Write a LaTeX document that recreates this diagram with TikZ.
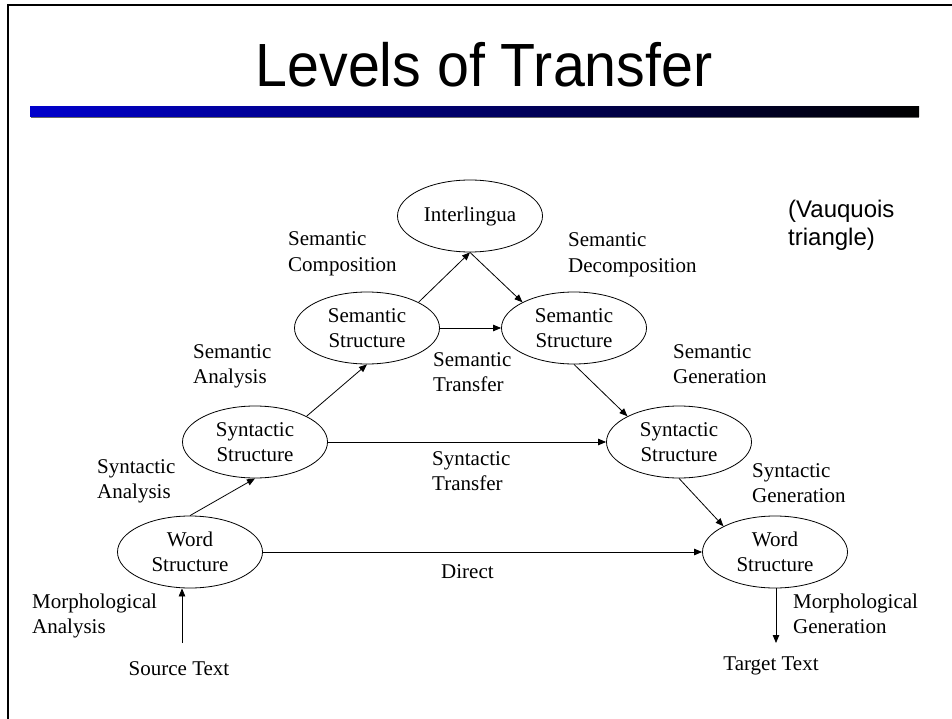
\documentclass[tikz,border=0pt]{standalone}
\usepackage{fontspec}
\setmainfont{Liberation Serif}
\newfontfamily\arialfont{Liberation Sans}
\usetikzlibrary{arrows.meta,shapes.geometric}

\definecolor{barblue}{RGB}{0,0,204}

\begin{document}
\begin{tikzpicture}[x=1pt, y=-1pt,
        level/.style={draw, ellipse, line width=0.8pt, minimum width=145pt, minimum height=72pt, inner sep=0pt, align=center, font=\fontsize{21}{25}\selectfont},
        lbl/.style={anchor=base west, inner sep=0pt, align=left, font=\fontsize{21}{25}\selectfont},
        arrow/.style={-{Triangle[length=8pt, width=6.5pt]}, line width=0.8pt}
      ]
      \useasboundingbox (0,0) rectangle (952,719);
      % frame and title bar
      \draw[line width=2.5pt] (8,719) -- (8,5) -- (952,5);
      \shade[left color=barblue, right color=black] (30,107) rectangle (919,117);
      \draw[black!60, line width=0.8pt] (31,117) -- (919,117);
      \node[anchor=base, inner sep=0pt, font=\arialfont\fontsize{61}{66}\selectfont] (title) at (484,87) {\scalebox{0.94}[1]{Levels of Transfer}};
      \node[anchor=base west, inner sep=0pt, align=left, font=\arialfont\fontsize{24}{28}\selectfont] (vauq) at (788,245) {(Vauquois\\triangle)};

      % levels
      \node[level] (interl) at (470,216) {Interlingua};
      \node[level] (semL) at (367,328) {Semantic\\Structure};
      \node[level] (semR) at (574,328) {Semantic\\Structure};
      \node[level] (synL) at (255,442) {Syntactic\\Structure};
      \node[level] (synR) at (679,442) {Syntactic\\Structure};
      \node[level] (wordL) at (190,552) {Word\\Structure};
      \node[level] (wordR) at (775,552) {Word\\Structure};

      % texts at the ends
      \node[anchor=base, inner sep=0pt, font=\fontsize{21}{25}\selectfont] (src) at (179,675) {Source Text};
      \node[anchor=base, inner sep=0pt, font=\fontsize{21}{25}\selectfont] (tgt) at (771,670) {Target Text};
      \coordinate (srcTop) at (182,643);
      \coordinate (tgtEnd) at (776,643);

      % step labels (base = last line)
      \node[lbl] (semComp) at (288,271) {Semantic\\Composition};
      \node[lbl] (semDec) at (568,272) {Semantic\\Decomposition};
      \node[lbl] (semAna) at (193,383) {Semantic\\Analysis};
      \node[lbl] (semTr) at (433,391) {Semantic\\Transfer};
      \node[lbl] (semGen) at (673,383) {Semantic\\Generation};
      \node[lbl] (synAna) at (97,498) {Syntactic\\Analysis};
      \node[lbl] (synTr) at (432,490) {Syntactic\\Transfer};
      \node[lbl] (synGen) at (752,502) {Syntactic\\Generation};
      \node[lbl] (direct) at (441,578) {Direct};
      \node[lbl] (morAna) at (32,633) {Morphological\\Analysis};
      \node[lbl] (morGen) at (793,633) {Morphological\\Generation};

      % arrows
      \draw[arrow] (srcTop) -- (srcTop |- wordL.south);
      \draw[arrow] (wordL.north) -- (synL.south);
      \draw[arrow] (synL.north east) -- (semL.south);
      \draw[arrow] (semL.north east) -- (interl.south);
      \draw[arrow] (interl.south) -- (semR.north west);
      \draw[arrow] (semR.south) -- (synR.north west);
      \draw[arrow] (synR.south) -- (wordR.north west);
      \draw[arrow] (wordR.south -| tgtEnd) -- (tgtEnd);
      \draw[arrow] (semL) -- (semR);
      \draw[arrow] (synL) -- (synR);
      \draw[arrow] (wordL) -- (wordR);
    \end{tikzpicture}
\end{document}
